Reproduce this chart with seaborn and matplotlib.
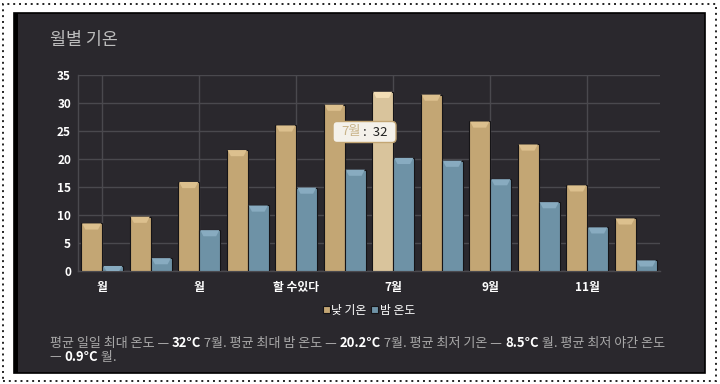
import numpy as np
import pandas as pd
import matplotlib
matplotlib.use('Agg')
import matplotlib.pyplot as plt
import seaborn as sns
from matplotlib.patches import Rectangle, Polygon, FancyBboxPatch
from matplotlib.transforms import IdentityTransform

# data
months = ['1월', '2월', '3월', '4월', '5월', '6월', '7월', '8월', '9월', '10월', '11월', '12월']
tick_labels = ['월', '월', '할 수있다', '7월', '9월', '11월']
day_temp = [8.5, 9.7, 15.9, 21.6, 26.0, 29.7, 32.0, 31.5, 26.7, 22.6, 15.3, 9.4]
night_temp = [0.9, 2.3, 7.3, 11.7, 14.9, 18.1, 20.2, 19.7, 16.4, 12.3, 7.8, 1.9]
series_names = ['낮 기온', '밤 온도']

df = pd.DataFrame({
    'month': months * 2,
    'temp': day_temp + night_temp,
    'series': [series_names[0]] * 12 + [series_names[1]] * 12,
})

BG = '#2a282d'
TAN = '#c3a674'
TAN_HI = '#d9c49c'
BLUE = '#6e92a6'
GRID = '#4a494e'

sns.set_theme(style='dark')
plt.rcParams['font.family'] = ['Noto Sans CJK KR', 'DejaVu Sans']

fig = plt.figure(figsize=(7.2, 3.84), dpi=100)
fig.patch.set_facecolor('white')

# dotted outer frame + dark panel
fig.add_artist(Rectangle((3 / 720, 3 / 384), 713 / 720, 377 / 384, transform=fig.transFigure,
                         fill=False, edgecolor='#222222', linestyle=(0, (1, 2)), linewidth=1.4))
fig.add_artist(Rectangle((14 / 720, 11 / 384), 691 / 720, 360 / 384, transform=fig.transFigure,
                         facecolor=BG, edgecolor='black', linewidth=1.2, zorder=0))
fig.add_artist(Rectangle((14 / 720, 11 / 384), 4 / 720, 360 / 384, transform=fig.transFigure,
                         facecolor='black', edgecolor='none', zorder=0.5))

ax = fig.add_axes([78 / 720, 113 / 384, 582 / 720, 196 / 384])
ax.set_facecolor('none')

sns.barplot(data=df, x='month', y='temp', hue='series', palette=[TAN, BLUE],
            saturation=1, width=0.87, gap=0, edgecolor='#151417', linewidth=0.8,
            ax=ax, zorder=3)

# highlighted July bar (hovered)
bars = [p for p in ax.patches if p.get_height() > 0]
bars[6].set_facecolor(TAN_HI)

# bevel highlight on top of bars
for p in bars:
    x0 = p.get_x()
    w = p.get_width()
    top = p.get_height()
    h = min(1.1, top)
    fc = p.get_facecolor()
    light = tuple(min(1, c + 0.1) for c in fc[:3])
    ax.add_patch(Polygon([(x0 + 0.02, top), (x0 + w - 0.02, top), (x0 + w * 0.8, top - h),
                          (x0 + w * 0.2, top - h)], closed=True, facecolor=light,
                         edgecolor='none', zorder=4))

ax.set_ylim(0, 35)
ax.set_xlim(-0.5, 11.5)
ax.set_yticks(range(0, 36, 5))
ax.set_xticks(range(0, 12, 2))
ax.set_xticklabels(tick_labels)
ax.set_xlabel('')
ax.set_ylabel('')
ax.grid(True, color=GRID, linewidth=1, zorder=0)
for s in ['top', 'right']:
    ax.spines[s].set_visible(False)
for s in ['left', 'bottom']:
    ax.spines[s].set_color(GRID)
    ax.spines[s].set_linewidth(1)
ax.tick_params(axis='both', colors='white', labelsize=8.5, length=0, pad=5)
ax.tick_params(axis='x', length=4, color=GRID, pad=3)
for lab in ax.get_xticklabels() + ax.get_yticklabels():
    lab.set_fontweight('bold')
    lab.set_color('white')

# legend
leg = ax.legend(loc='center', bbox_to_anchor=(0.5, -0.2), ncol=2, frameon=False,
                handlelength=0.6, handleheight=0.6, handletextpad=0.1, columnspacing=0.4,
                fontsize=8.5)
for t in leg.get_texts():
    t.set_color('white')

renderer = fig.canvas.get_renderer()

# tooltip (hover on July)
t1 = fig.text(341 / 720, 1 - 132 / 384, '7월', ha='left', va='center', fontsize=9.5,
              style='italic', color='#c9b48a', zorder=7)
b1 = t1.get_window_extent(renderer)
t2 = fig.text((341 + b1.width) / 720, 1 - 132 / 384, ' :  32', ha='left', va='center',
              fontsize=9.5, style='italic', color='#222222', zorder=7)
b2 = t2.get_window_extent(renderer)
fig.add_artist(FancyBboxPatch((b1.x0 - 8, b1.y0 - 4), b2.x1 - b1.x0 + 16, b1.height + 8,
                              boxstyle='round,pad=0,rounding_size=4', transform=IdentityTransform(),
                              facecolor='#f4f1ea', edgecolor=TAN, linewidth=1, zorder=6))

# title
fig.text(50 / 720, 1 - 40 / 384, '월별 기온', fontsize=12.5, color='#bdbdbd', va='center')

# footer with mixed weight
lines = [
    [('평균 일일 최대 온도 — ', False), ('32°C', True), (' 7월. 평균 최대 밤 온도 — ', False),
     ('20.2°C', True), (' 7월. 평균 최저 기온 — ', False), ('8.5°C', True),
     (' 월. 평균 최저 야간 온도', False)],
    [('— ', False), ('0.9°C', True), (' 월.', False)],
]
ys = [343, 357]
for line, yp in zip(lines, ys):
    x = 50
    for txt, bold in line:
        t = fig.text(x / 720, 1 - yp / 384, txt, fontsize=9.4,
                     color='white' if bold else '#a9a9a9',
                     fontweight='bold' if bold else 'normal', va='center')
        bb = t.get_window_extent(renderer)
        x += bb.width

fig.savefig('out.png', dpi=100, facecolor=fig.get_facecolor())
